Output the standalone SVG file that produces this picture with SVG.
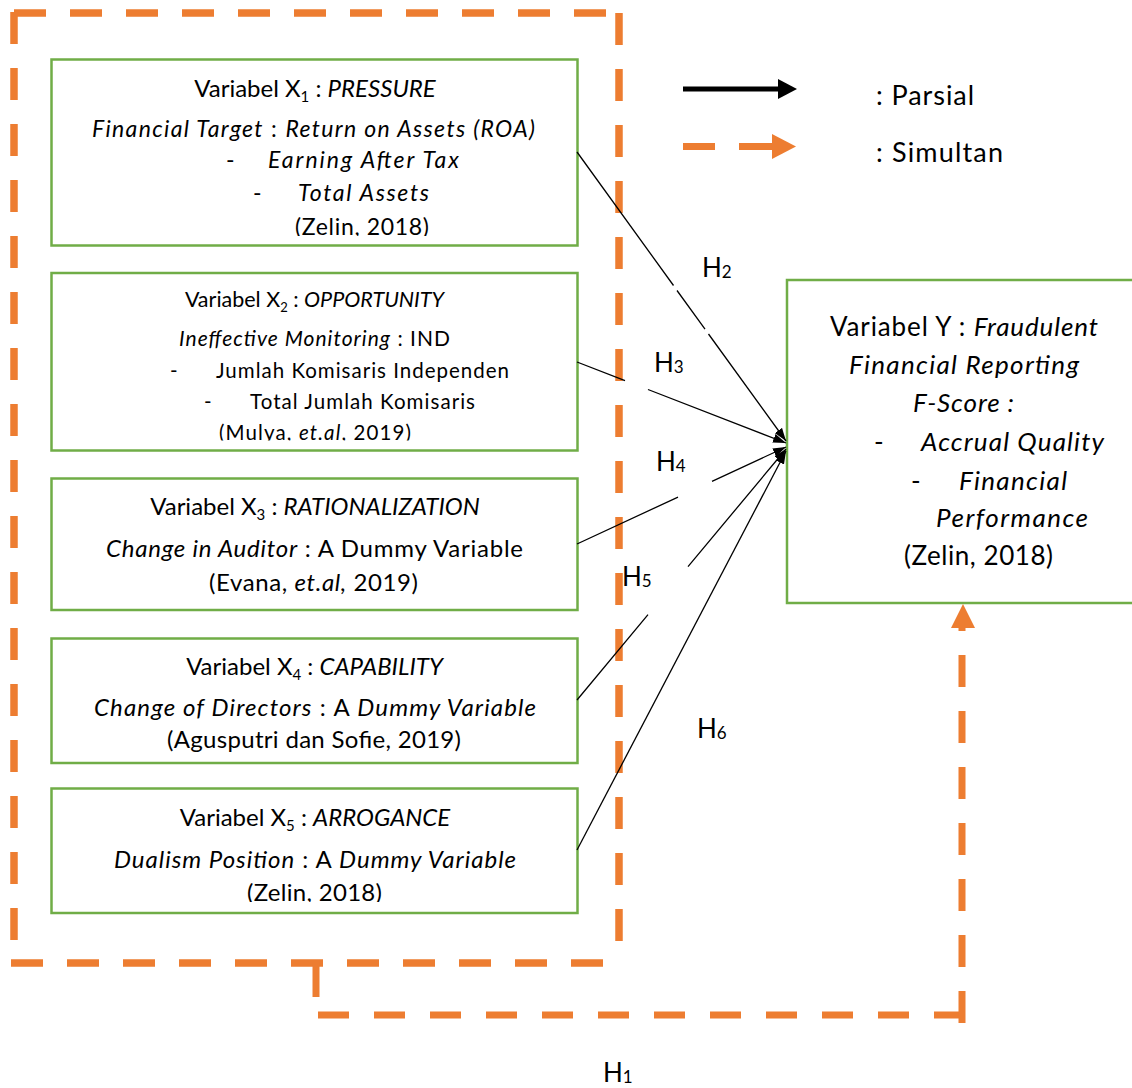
<svg xmlns="http://www.w3.org/2000/svg" width="1132" height="1088" viewBox="0 0 1132 1088">
<style>
.bx{fill:#fff;stroke:#70AD47;stroke-width:2.5}
.t{font-family:Lato,'Liberation Sans',sans-serif;fill:#000}
.i{font-style:italic}
.od{fill:none;stroke:#ED7D31;stroke-width:7.5;stroke-dasharray:32 24}
.oc{fill:none;stroke:#ED7D31;stroke-width:7}
.ln{fill:none;stroke:#000;stroke-width:1.3}
.hl{font-family:Lato,'Liberation Sans',sans-serif;font-size:26px;fill:#000}
</style>
<defs>
<marker id="ah" markerUnits="userSpaceOnUse" markerWidth="14" markerHeight="10" refX="13" refY="4.5" orient="auto"><path d="M0,0 L13,4.5 L0,9 z" fill="#000"/></marker>
<clipPath id="c1"><rect x="51" y="59" width="527" height="177"/></clipPath>
<clipPath id="c2"><rect x="51" y="273" width="527" height="167.5"/></clipPath>
<clipPath id="c5"><rect x="51" y="788" width="527" height="114"/></clipPath>
</defs>

<g id="outer-group">
<path class="od" d="M14,13 H620"/>
<path class="od" d="M619,13 V963"/>
<path class="od" d="M14,12 V963"/>
<path class="od" d="M11,963 H620"/>
</g>

<g id="legend">
<line x1="683" y1="89" x2="779" y2="89" stroke="#000" stroke-width="5"/>
<path d="M778,79 L797,89 L778,99 z" fill="#000"/>
<line x1="683" y1="146.5" x2="715" y2="146.5" stroke="#ED7D31" stroke-width="7"/>
<line x1="739" y1="146.5" x2="773" y2="146.5" stroke="#ED7D31" stroke-width="7"/>
<path d="M772,134 L796,146.5 L772,159 z" fill="#ED7D31"/>
<text class="t" x="876" y="105" font-size="27" textLength="98">: Parsial</text>
<text class="t" x="876" y="162" font-size="27" textLength="127">: Simultan</text>
</g>

<g id="node-x1">
<rect class="bx" x="51.5" y="59.5" width="526" height="186"/>
<text class="t" x="315" y="96.5" font-size="24" text-anchor="middle">Variabel X<tspan font-size="15" dy="5">1</tspan><tspan dy="-5"> : </tspan><tspan class="i">PRESSURE</tspan></text>
<text class="t" x="92" y="136.5" font-size="23" textLength="443"><tspan class="i">Financial Target</tspan> : <tspan class="i">Return on Assets (ROA)</tspan></text>
<text class="t" x="226" y="168" font-size="23">-</text>
<text class="t i" x="268" y="168" font-size="23" textLength="191">Earning After Tax</text>
<text class="t" x="253" y="201" font-size="23">-</text>
<text class="t i" x="298" y="201" font-size="23" textLength="131">Total Assets</text>
<text class="t" x="295" y="234.5" font-size="23" textLength="134" clip-path="url(#c1)">(Zelin, 2018)</text>
</g>

<g id="node-x2">
<rect class="bx" x="51.5" y="273" width="526" height="177.5"/>
<text class="t" x="314.5" y="306.5" font-size="21.5" text-anchor="middle">Variabel X<tspan font-size="13" dy="5">2</tspan><tspan dy="-5"> : </tspan><tspan class="i">OPPORTUNITY</tspan></text>
<text class="t" x="179" y="346" font-size="21" textLength="271"><tspan class="i">Ineffective Monitoring</tspan> : IND</text>
<text class="t" x="170" y="377.5" font-size="20.5">-</text>
<text class="t" x="216" y="377.5" font-size="20.5" textLength="293">Jumlah Komisaris Independen</text>
<text class="t" x="204" y="408.5" font-size="20.5">-</text>
<text class="t" x="250" y="408.5" font-size="20.5" textLength="225">Total Jumlah Komisaris</text>
<text class="t" x="219" y="439.5" font-size="20.5" textLength="192" clip-path="url(#c2)">(Mulya, <tspan class="i">et.al</tspan>, 2019)</text>
</g>

<g id="node-x3">
<rect class="bx" x="51.5" y="478.5" width="526" height="131.5"/>
<text class="t" x="315" y="515" font-size="24" text-anchor="middle">Variabel X<tspan font-size="15" dy="5">3</tspan><tspan dy="-5"> : </tspan><tspan class="i">RATIONALIZATION</tspan></text>
<text class="t" x="106" y="557" font-size="24" textLength="417"><tspan class="i">Change in Auditor</tspan> : A Dummy Variable</text>
<text class="t" x="209" y="590.5" font-size="24" textLength="209">(Evana, <tspan class="i">et.al,</tspan> 2019)</text>
</g>

<g id="node-x4">
<rect class="bx" x="51.5" y="638.5" width="526" height="124.5"/>
<text class="t" x="314.5" y="675" font-size="24" text-anchor="middle">Variabel X<tspan font-size="15" dy="5">4</tspan><tspan dy="-5"> : </tspan><tspan class="i">CAPABILITY</tspan></text>
<text class="t" x="94" y="716" font-size="24" textLength="442"><tspan class="i">Change of Directors</tspan> :  A <tspan class="i">Dummy Variable</tspan></text>
<text class="t" x="167" y="747.5" font-size="24" textLength="294">(Agusputri dan Sofie, 2019)</text>
</g>

<g id="node-x5">
<rect class="bx" x="51.5" y="788.5" width="526" height="124.5"/>
<text class="t" x="315" y="825.5" font-size="24" text-anchor="middle">Variabel X<tspan font-size="15" dy="5">5</tspan><tspan dy="-5"> : </tspan><tspan class="i">ARROGANCE</tspan></text>
<text class="t" x="114" y="867.5" font-size="24" textLength="402"><tspan class="i">Dualism Position</tspan> : A <tspan class="i">Dummy Variable</tspan></text>
<text class="t" x="247" y="901" font-size="24" textLength="135" clip-path="url(#c5)">(Zelin, 2018)</text>
</g>

<g id="node-y">
<rect class="bx" x="787" y="280" width="360" height="323"/>
<text class="t" x="830" y="336" font-size="26" textLength="268">Variabel Y : <tspan class="i">Fraudulent</tspan></text>
<text class="t i" x="849" y="373.5" font-size="26" textLength="230">Financial Reporting</text>
<text class="t i" x="913" y="412" font-size="26" textLength="101">F-Score :</text>
<text class="t" x="874" y="451" font-size="26">-</text>
<text class="t i" x="921" y="451" font-size="26" textLength="183">Accrual Quality</text>
<text class="t" x="911" y="489.5" font-size="26">-</text>
<text class="t i" x="959" y="489.5" font-size="26" textLength="108">Financial</text>
<text class="t i" x="936" y="527" font-size="26" textLength="152">Performance</text>
<text class="t" x="904" y="565" font-size="26" textLength="149">(Zelin, 2018)</text>
</g>

<g id="connectors">
<path class="ln" d="M577,152 L673.5,285.5 M677,290.5 L705,329.2 M708.5,334 L786,441" marker-end="url(#ah)"/>
<path class="ln" d="M577,362 L625,380.6 M648,389.5 L786,443" marker-end="url(#ah)"/>
<path class="ln" d="M577,544 L678,497.1 M712,481.4 L786,447" marker-end="url(#ah)"/>
<path class="ln" d="M577,700 L648,614.7 M688,566.7 L786,449" marker-end="url(#ah)"/>
<path class="ln" d="M577,850 L786,451" marker-end="url(#ah)"/>
<path class="oc" d="M316,963 V997"/>
<path class="oc" d="M318,1015 H962" stroke-dasharray="31 25"/>
<path class="oc" d="M962,1023 V627" stroke-dasharray="32 24"/>
<path d="M951,628 L963,604 L975,628 z" fill="#ED7D31"/>
<text class="hl" x="702" y="277">H<tspan font-size="17" dy="1">2</tspan></text>
<text class="hl" x="654" y="371.5">H<tspan font-size="17" dy="1">3</tspan></text>
<text class="hl" x="656" y="471">H<tspan font-size="17" dy="1">4</tspan></text>
<text class="hl" x="622" y="586">H<tspan font-size="17" dy="1">5</tspan></text>
<text class="hl" x="697" y="737.5">H<tspan font-size="17" dy="1">6</tspan></text>
<text class="hl" x="603" y="1082">H<tspan font-size="17" dy="1">1</tspan></text>
</g>
</svg>
